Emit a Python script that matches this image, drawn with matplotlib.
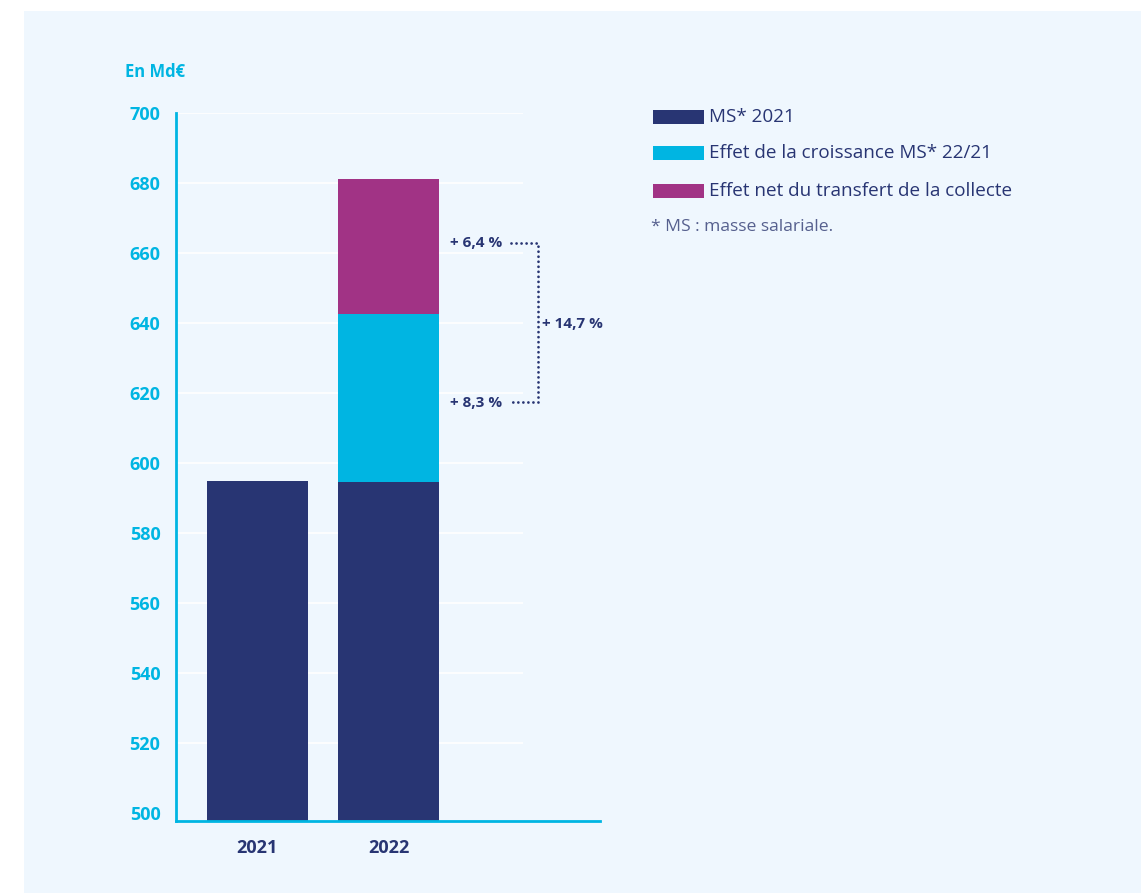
import matplotlib
matplotlib.use("Agg")
import matplotlib.pyplot as plt
from matplotlib.patches import Rectangle

# ---- data ----
years = ["2021", "2022"]
ms_2021 = [594.9, 594.7]
croissance = [0.0, 47.8]
transfert = [0.0, 38.7]
legend_labels = ["MS* 2021", "Effet de la croissance MS* 22/21",
                 "Effet net du transfert de la collecte"]
yticks = [500, 520, 540, 560, 580, 600, 620, 640, 660, 680, 700]
pct_labels = ["+ 6,4 %", "+ 8,3 %", "+ 14,7 %"]

NAVY = "#283573"
CYAN = "#00B5E2"
MAGENTA = "#A13385"
BG = "#EFF7FE"
FONT2 = "Open Sans"

W, H = 1141, 893
fig = plt.figure(figsize=(W / 100, H / 100), dpi=100)
fig.patch.set_facecolor("white")
fig.patches.append(Rectangle((24 / W, 0), 1 - 24 / W, (H - 11) / H,
                             transform=fig.transFigure, facecolor=BG,
                             edgecolor="none", zorder=-10))

ax = fig.add_axes([175.7 / W, 1 - 821 / H, (600 - 175.7) / W, (821 - 113) / H])
ax.set_facecolor("none")
ax.set_zorder(1)
ymin = 497.7
ax.set_ylim(ymin, 700)
ax.set_xlim(-0.624, 2.614)

x = [0, 1]
bw = 0.776
ax.hlines(yticks[1:], -0.624, 2.029, colors="white", lw=1.2, zorder=1)

base_h = [v - ymin for v in ms_2021]
ax.bar(x, base_h, bottom=ymin, width=bw, color=NAVY, zorder=3, label=legend_labels[0])
ax.bar(x, croissance, bottom=ms_2021, width=bw, color=CYAN, zorder=3, label=legend_labels[1])
tops1 = [a + b for a, b in zip(ms_2021, croissance)]
ax.bar(x, transfert, bottom=tops1, width=bw, color=MAGENTA, zorder=3, label=legend_labels[2])

for s in ["top", "right"]:
    ax.spines[s].set_visible(False)
for s in ["left", "bottom"]:
    ax.spines[s].set_color(CYAN)
    ax.spines[s].set_linewidth(2.0)
    ax.spines[s].set_zorder(4)

ax.set_yticks(yticks)
ax.set_yticklabels([str(t) for t in yticks])
ax.set_xticks(x)
ax.set_xticklabels(years)
ax.tick_params(axis="y", length=0, pad=11, labelsize=13, labelcolor=CYAN)
ax.tick_params(axis="x", length=0, pad=13, labelsize=13, labelcolor=NAVY)
for lab in ax.get_yticklabels() + ax.get_xticklabels():
    lab.set_fontfamily(FONT2)
    lab.set_fontweight("bold")
ax.get_yticklabels()[0].set_y(501.8)

fig.text(125 / W, 1 - 72 / H, "En Md€", color=CYAN, fontsize=12, fontweight="bold",
         family=FONT2, ha="left", va="center")

def px(xp):
    return (xp - 257.5) / 131.0

def py(yp):
    return 700 - (yp - 113) / 3.5

ax.text(px(450), py(243.5), pct_labels[0], color=NAVY, fontsize=11, fontweight="bold",
        family=FONT2, ha="left", va="center", zorder=5)
ax.text(px(450), py(403.5), pct_labels[1], color=NAVY, fontsize=11, fontweight="bold",
        family=FONT2, ha="left", va="center", zorder=5)
ax.text(px(541.5), py(324), pct_labels[2], color=NAVY, fontsize=11, fontweight="bold",
        family=FONT2, ha="left", va="center", zorder=5)
ls = (0, (0.01, 1.8))
ax.plot([px(511), px(537.5), px(537.5), px(511)],
        [py(242.7), py(242.7), py(401.7), py(401.7)],
        color=NAVY, lw=2.0, linestyle=ls, dash_capstyle="round", zorder=5,
        clip_on=False)

rows = [117.3, 153.5, 190.5]
cols = [NAVY, CYAN, MAGENTA]
for yy, c, lab in zip(rows, cols, legend_labels):
    fig.patches.append(Rectangle((652.5 / W, 1 - (yy + 7) / H), 51 / W, 14 / H,
                                 transform=fig.transFigure, facecolor=c,
                                 edgecolor="none", zorder=2))
    fig.text(709 / W, 1 - yy / H, lab, color=NAVY, fontsize=13.6, family=FONT2,
             ha="left", va="center")
fig.text(651 / W, 1 - 227 / H, "* MS : masse salariale.", color="#56608E", fontsize=12.6,
         family=FONT2, ha="left", va="center")

fig.savefig("out.png", dpi=100, facecolor=fig.get_facecolor())
